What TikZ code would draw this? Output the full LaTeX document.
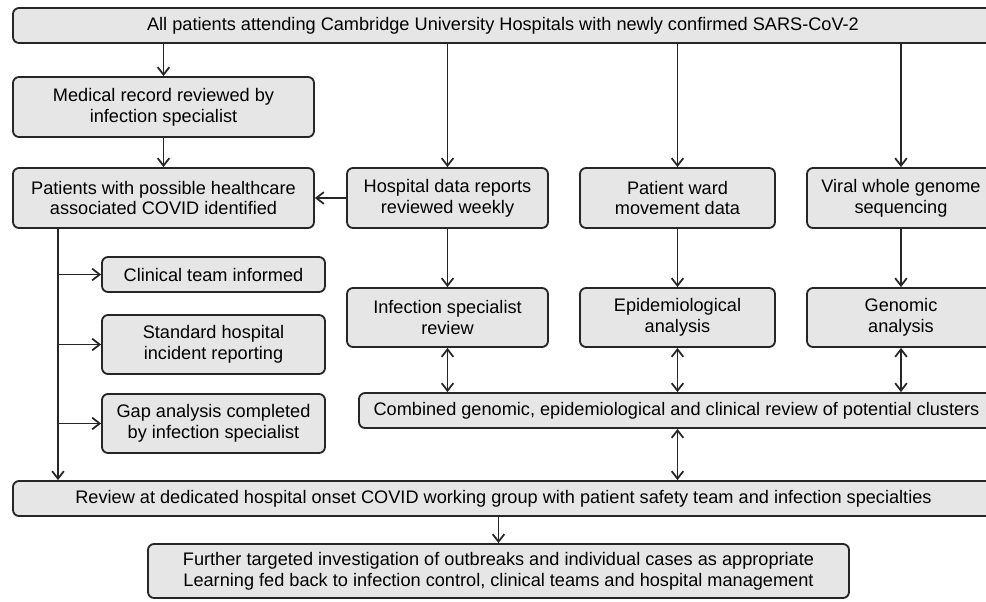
\documentclass[tikz,border=0pt]{standalone}
\usepackage{fontspec}
\setmainfont{Liberation Sans}
\usepackage{tikz}
\usetikzlibrary{arrows.meta}
\definecolor{linec}{HTML}{262626}
\definecolor{boxbg}{HTML}{E6E6E6}
\tikzset{
  ar/.style={-{Straight Barb[length=4.5pt,width=7pt]},line width=1.05pt,linec},
  dar/.style={{Straight Barb[length=4.5pt,width=7pt]}-{Straight Barb[length=4.5pt,width=7pt]},line width=1.05pt,linec},
  box/.style={draw=linec,line width=1.1pt,rounded corners=3.6pt,fill=boxbg,align=center,inner sep=2pt,font=\fontsize{10.9}{12.4}\selectfont}
}

\begin{document}
\begin{tikzpicture}[x=0.6pt,y=-0.6pt]
\useasboundingbox (0,0) rectangle (986,601);
% top row
\node[box,minimum width=588pt,minimum height=21pt] (all) at (503,25.5) {All patients attending Cambridge University Hospitals with newly confirmed SARS-CoV-2};
\node[box,minimum width=180.6pt,minimum height=36pt] (med) at (163.5,107) {Medical record reviewed by\\infection specialist};
\node[box,minimum width=180.6pt,minimum height=36pt] (poss) at (163.5,198) {Patients with possible healthcare\\associated COVID identified};
\node[box,minimum width=120.6pt,minimum height=36pt] (hosp) at (447.5,198) {Hospital data reports\\reviewed weekly};
\node[box,minimum width=117pt,minimum height=36pt] (ward) at (677.5,198) {Patient ward\\movement data};
\node[box,minimum width=112.8pt,minimum height=36pt] (wgs) at (901,198) {Viral whole genome\\sequencing};
% analysis row
\node[box,minimum width=120.6pt,minimum height=35.4pt] (isr) at (447.5,317.5) {Infection specialist\\review};
\node[box,minimum width=117pt,minimum height=35.4pt] (epi) at (677.5,317.5) {Epidemiological\\analysis};
\node[box,minimum width=112.8pt,minimum height=35.4pt] (gen) at (901,317.5) {Genomic\\analysis};
\node[box,minimum width=381pt,minimum height=21pt] (comb) at (676.5,410.5) {Combined genomic, epidemiological and clinical review of potential clusters};
% actions
\node[box,minimum width=133.8pt,minimum height=21pt] (clin) at (213.5,274.5) {Clinical team informed};
\node[box,minimum width=133.8pt,minimum height=35.4pt] (std) at (213.5,344.5) {Standard hospital\\incident reporting};
\node[box,minimum width=133.8pt,minimum height=35.4pt] (gap) at (213.5,423.5) {Gap analysis completed\\by infection specialist};
% bottom
\node[box,minimum width=588.6pt,minimum height=21pt] (rev) at (503.5,498.5) {Review at dedicated hospital onset COVID working group with patient safety team and infection specialties};
\node[box,minimum width=420.6pt,minimum height=32.4pt] (fur) at (498.5,571) {Further targeted investigation of outbreaks and individual cases as appropriate\\Learning fed back to infection control, clinical teams and hospital management};
\coordinate (trunk) at (58,228);
% arrows
\draw[ar] (all.south -| med.north) -- (med.north);
\draw[ar] (med) -- (poss);
\draw[ar] (all.south -| hosp.north) -- (hosp.north);
\draw[ar] (all.south -| ward.north) -- (ward.north);
\draw[ar] (all.south -| wgs.north) -- (wgs.north);
\draw[ar] (hosp) -- (poss);
\draw[ar] (hosp) -- (isr);
\draw[ar] (ward) -- (epi);
\draw[ar] (wgs) -- (gen);
\draw[dar] (isr.south) -- (comb.north -| isr.south);
\draw[dar] (epi.south) -- (comb.north -| epi.south);
\draw[dar] (gen.south) -- (comb.north -| gen.south);
\draw[dar] (comb.south -| epi.south) -- (rev.north -| epi.south);
\draw[ar] (trunk) -- (trunk |- rev.north);
\draw[ar] (clin.west -| trunk) -- (clin.west);
\draw[ar] (std.west -| trunk) -- (std.west);
\draw[ar] (gap.west -| trunk) -- (gap.west);
\draw[ar] (rev.south -| fur.north) -- (fur.north);
\end{tikzpicture}
\end{document}
